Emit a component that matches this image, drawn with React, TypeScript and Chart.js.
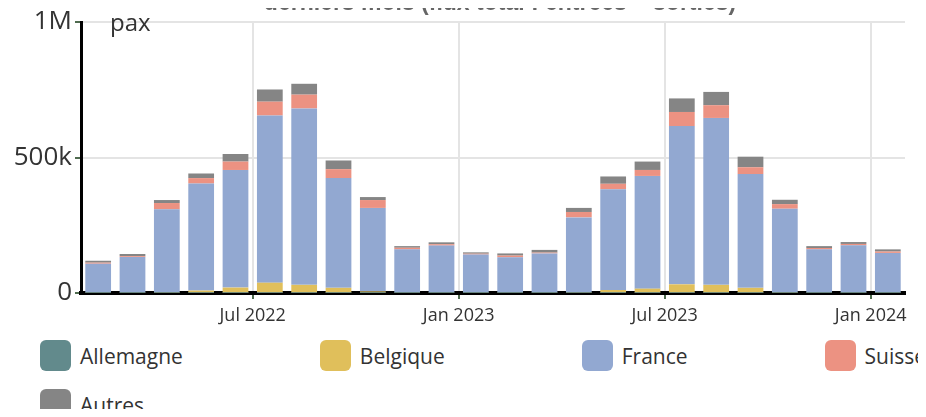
import React, { useEffect, useRef } from "react";
import { Chart, registerables } from "chart.js";

Chart.register(...registerables);

const TITLE = "derniers mois (flux total : entrées + sorties)";
const UNIT_LABEL = "pax";

const months = [
  "Feb 2022", "Mar 2022", "Apr 2022", "May 2022", "Jun 2022", "Jul 2022",
  "Aug 2022", "Sep 2022", "Oct 2022", "Nov 2022", "Dec 2022", "Jan 2023",
  "Feb 2023", "Mar 2023", "Apr 2023", "May 2023", "Jun 2023", "Jul 2023",
  "Aug 2023", "Sep 2023", "Oct 2023", "Nov 2023", "Dec 2023", "Jan 2024",
];

const allemagne = [1000, 1000, 1000, 1000, 1000, 1000, 1000, 1000, 1000, 1000, 1000, 1000,
  1000, 1000, 1000, 1000, 1000, 1000, 1000, 1000, 1000, 1000, 1000, 1000];
const belgique = [1000, 1000, 2000, 8000, 19000, 37000, 29000, 18000, 5000, 1000, 1000, 1000,
  1000, 1000, 2000, 10000, 15000, 31000, 29000, 18000, 2000, 1000, 1000, 1000];
const france = [106000, 131000, 306000, 395000, 434000, 617000, 651000, 405000, 308000, 159000, 173000, 140000,
  130000, 144000, 276000, 372000, 416000, 584000, 616000, 420000, 308000, 159000, 174000, 146000];
const suisse = [4000, 3000, 23000, 20000, 31000, 51000, 51000, 33000, 29000, 6000, 5000, 3000,
  6000, 3000, 20000, 20000, 22000, 52000, 47000, 25000, 17000, 5000, 5000, 5000];
const autres = [7000, 8000, 11000, 17000, 28000, 45000, 40000, 32000, 11000, 6000, 7000, 5000,
  8000, 10000, 15000, 27000, 31000, 50000, 49000, 39000, 16000, 7000, 7000, 8000];

const yTickLabels: Record<number, string> = { 0: "0", 500000: "500k", 1000000: "1M" };

const seriesNames = ["Allemagne", "Belgique", "France", "Suisse", "Autres"];
const seriesColors = ["#628a8c", "#e0bf5b", "#92a8d1", "#ec9282", "#858585"];
const seriesValues = [allemagne, belgique, france, suisse, autres];

const FONT = "'Open Sans', 'Noto Sans', sans-serif";

export default function App() {
  const canvasRef = useRef<HTMLCanvasElement | null>(null);

  useEffect(() => {
    const canvas = canvasRef.current;
    if (!canvas) return;

    const tickPositions: number[] = [];
    months.forEach((m, i) => {
      if (m.startsWith("Jan") || m.startsWith("Jul")) tickPositions.push(i - 0.5);
    });

    const extraText = {
      id: "extraText",
      afterDraw(chart: any) {
        const { ctx, chartArea } = chart;
        ctx.save();
        ctx.fillStyle = "#666";
        ctx.font = "bold 23px 'Liberation Sans', Arial, sans-serif";
        ctx.textAlign = "center";
        ctx.textBaseline = "alphabetic";
        ctx.fillText(TITLE, chart.width / 2, 10);
        ctx.fillStyle = "#333";
        ctx.font = `24px ${FONT}`;
        ctx.textAlign = "left";
        ctx.fillText(UNIT_LABEL, chartArea.left + 29, chartArea.top + 9);
        ctx.restore();
      },
    };

    const chart = new Chart(canvas, {
      type: "bar",
      data: {
        datasets: seriesNames.map((name, k) => ({
          label: name,
          data: seriesValues[k].map((v, i) => ({ x: i, y: v })),
          backgroundColor: seriesColors[k],
          borderWidth: 0,
          barPercentage: 0.75,
          categoryPercentage: 1,
          stack: "s",
        })),
      },
      options: {
        responsive: false,
        animation: false,
        layout: { padding: { top: 22, right: 95, left: 0, bottom: 0 } },
        plugins: {
          legend: { display: false },
          title: { display: false },
          tooltip: { enabled: false },
        },
        scales: {
          x: {
            type: "linear",
            stacked: true,
            offset: false,
            min: -0.5,
            max: months.length - 0.5,
            afterBuildTicks: (scale: any) => {
              scale.ticks = tickPositions.map((v) => ({ value: v }));
            },
            afterFit: (scale: any) => {
              scale.height = 37;
            },
            ticks: {
              autoSkip: false,
              maxRotation: 0,
              padding: 6,
              color: "#333",
              font: { family: FONT, size: 18 },
              callback: (v: any) => {
                const idx = Math.round(Number(v) + 0.5);
                return months[idx] ?? "";
              },
            },
            grid: {
              offset: false,
              color: "#e4e4e4",
              lineWidth: 2,
              tickColor: "#4f6b4f",
              tickLength: 6,
              tickWidth: 2,
            },
            border: { color: "#000", width: 4 },
          },
          y: {
            stacked: true,
            min: 0,
            max: 1000000,
            afterFit: (scale: any) => {
              scale.width = 81;
            },
            ticks: {
              stepSize: 500000,
              padding: 3,
              color: "#333",
              font: { family: FONT, size: 26 },
              callback: (v: any) => yTickLabels[Number(v)] ?? "",
            },
            grid: {
              color: "#e4e4e4",
              lineWidth: 2,
              tickColor: "#4f6b4f",
              tickLength: 6,
              tickWidth: 2,
            },
            border: { color: "#000", width: 3 },
          },
        },
      },
      plugins: [extraText],
    });

    return () => chart.destroy();
  }, []);

  return (
    <div
      style={{
        margin: "-8px",
        width: 926,
        height: 417,
        overflow: "hidden",
        position: "relative",
        background: "#fff",
      }}
    >
      <canvas
        ref={canvasRef}
        width={1000}
        height={330}
        style={{ position: "absolute", left: 0, top: 0, width: 1000, height: 330 }}
      />
      <div
        style={{
          position: "absolute",
          left: 40,
          top: 340,
          width: 900,
          display: "flex",
          flexWrap: "wrap",
          columnGap: 137,
          rowGap: 18,
        }}
      >
        {seriesNames.map((name, k) => (
          <div key={name} style={{ display: "flex", alignItems: "center", height: 31 }}>
            <span
              style={{
                display: "inline-block",
                width: 31,
                height: 31,
                borderRadius: 6,
                background: seriesColors[k],
                marginRight: 9,
              }}
            />
            <span style={{ fontFamily: FONT, fontSize: 21, color: "#333" }}>{name}</span>
          </div>
        ))}
      </div>
    </div>
  );
}
